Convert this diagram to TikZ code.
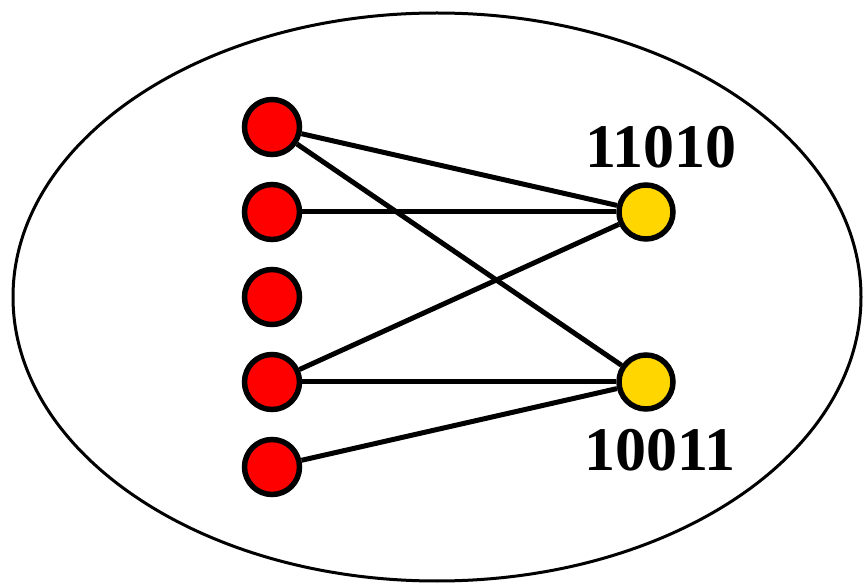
\documentclass[tikz,border=0pt]{standalone}
\usepackage{fontspec}
\usetikzlibrary{shapes.geometric}
\setmainfont{Liberation Serif}
\definecolor{gold}{RGB}{255,214,0}
\begin{document}
\begin{tikzpicture}[x=1pt,y=-1pt,
  rnode/.style={circle,draw=black,line width=5.5pt,fill=red,minimum size=55pt,inner sep=0pt},
  ynode/.style={circle,draw=black,line width=5.5pt,fill=gold,minimum size=54pt,inner sep=0pt},
  edge/.style={line width=5pt},
  lbl/.style={font=\fontsize{62}{62}\selectfont\bfseries,inner sep=0pt}]
\useasboundingbox (0,0) rectangle (863,585);
\node[draw,ellipse,line width=3pt,minimum width=848pt,minimum height=568pt,inner sep=0pt] (set) at (437,297) {};
\node[rnode] (r1) at (272,127) {};
\node[rnode] (r2) at (272,212) {};
\node[rnode] (r3) at (272,297) {};
\node[rnode] (r4) at (272,382) {};
\node[rnode] (r5) at (272,467) {};
\node[ynode] (y1) at (646,212) {};
\node[ynode] (y2) at (646,382) {};
\draw[edge] (r1) -- (y1);
\draw[edge] (r1) -- (y2);
\draw[edge] (r2) -- (y1);
\draw[edge] (r4) -- (y1);
\draw[edge] (r4) -- (y2);
\draw[edge] (r5) -- (y2);
\node[lbl] (l1) at (661,147) {11010};
\node[lbl] (l2) at (660,450) {10011};
\end{tikzpicture}
\end{document}
